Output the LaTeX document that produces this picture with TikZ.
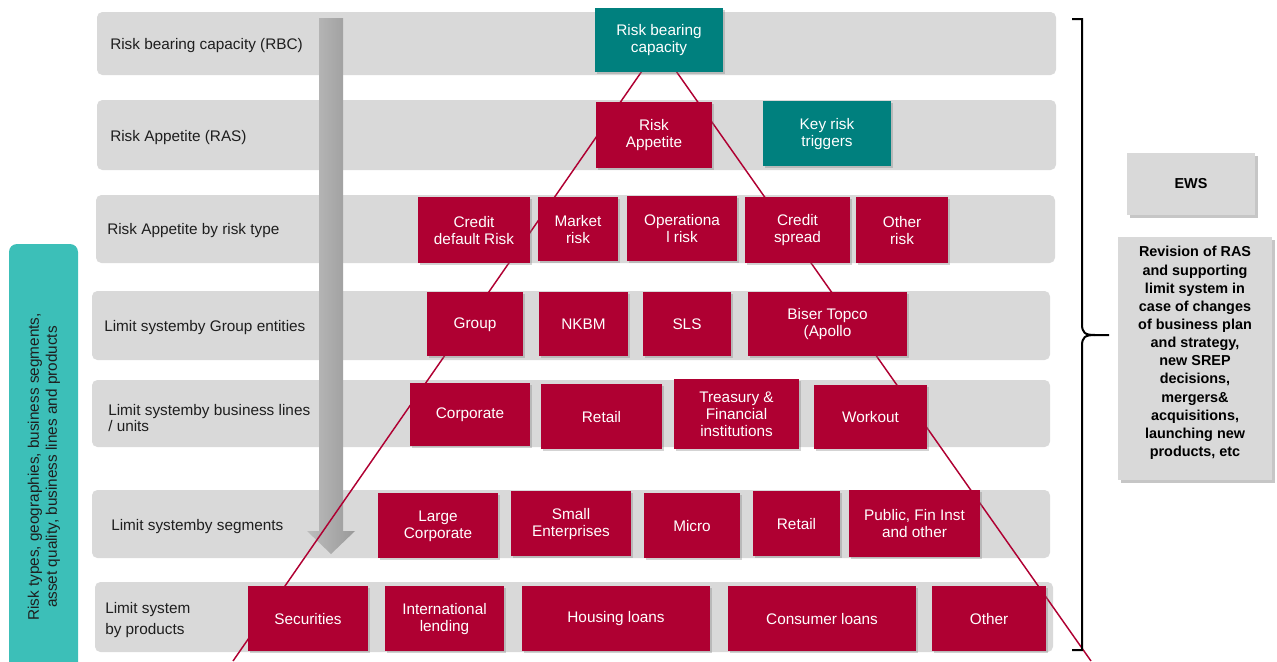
\documentclass[tikz,border=0pt]{standalone}
\usepackage{fontspec}
\setmainfont{Liberation Sans}
\usetikzlibrary{shadows}
\definecolor{crim}{HTML}{AF0032}
\definecolor{tealdark}{HTML}{00807E}
\definecolor{teallight}{HTML}{3CBFB8}
\definecolor{bandgray}{HTML}{D9D9D9}
\definecolor{labelink}{HTML}{1E1E1E}
\tikzset{
  boxbase/.style={inner sep=0pt, align=center, text=white,
    font=\fontsize{11.5}{12.75}\selectfont,
    drop shadow={shadow xshift=1.6pt, shadow yshift=-1.6pt, opacity=0.35}},
  redbox/.style={boxbase, fill=crim},
  tealbox/.style={boxbase, fill=tealdark},
  bandbox/.style={inner sep=0pt, fill=bandgray, rounded corners=4pt},
  bandlabel/.style={anchor=west, inner sep=0pt, align=left, text=labelink,
    font=\fontsize{11.5}{12}\selectfont},
  ewsbox/.style={inner sep=0pt, align=center, fill=bandgray, text=black,
    font=\fontsize{10.8}{13.6}\selectfont\bfseries,
    drop shadow={shadow xshift=2pt, shadow yshift=-2pt, opacity=0.45}},
  ewstext/.style={inner sep=0pt, align=center, text=black,
    font=\fontsize{10.8}{13.6}\selectfont\bfseries},
  pyrline/.style={draw=crim, line width=1.1pt},
  bracket/.style={draw=black, line width=1.5pt},
}
% box with corners (x1,y1)-(x2,y2) in pixels; #8 = vertical offset of the node
\newcommand\bx[7]{\node[#1, minimum width={(#5-#3)*0.75pt}, minimum height={(#6-#4)*0.75pt}] (#2) at ({(#3+#5)/2},{(#4+#6)/2}) {#7};}
\begin{document}
\begin{tikzpicture}[x=0.75pt, y=-0.75pt]
\useasboundingbox (0,0) rectangle (1277,661);
% bands
\bx{bandbox}{b1}{97}{12}{1056}{75}{}
\bx{bandbox}{b2}{97}{100}{1056}{170}{}
\bx{bandbox}{b3}{96}{195}{1055}{263}{}
\bx{bandbox}{b4}{92}{291}{1050}{360}{}
\bx{bandbox}{b5}{92}{380}{1050}{447}{}
\bx{bandbox}{b6}{92}{490}{1050}{558}{}
\bx{bandbox}{b7}{95}{582}{1053}{652}{}
% band labels
\node[bandlabel] (l1) at (110,46) {Risk bearing capacity (RBC)};
\node[bandlabel] (l2) at (110,138) {Risk Appetite (RAS)};
\node[bandlabel] (l3) at (107,231) {Risk Appetite by risk type};
\node[bandlabel] (l4) at (104,328) {Limit systemby Group entities};
\node[bandlabel] (l5) at (108,418) {Limit systemby business lines\\/ units};
\node[bandlabel] (l6) at (111,527) {Limit systemby segments};
\node[bandlabel, font=\fontsize{11.5}{15.75}\selectfont] (l7) at (105,620) {Limit system\\by products};
% left teal box
\fill[teallight, rounded corners=6pt] (9,244) rectangle (78,700);
\node[rotate=90, align=center, text=labelink, font=\fontsize{11.5}{13.5}\selectfont] (side) at (44,467)
  {Risk types, geographies, business segments,\\asset quality, business lines and products};
% gray arrow
\shade[left color=black!26, right color=black!40]
  (319,18) -- (343,18) -- (343,531) -- (355,531) -- (331,554) -- (307,531) -- (319,531) -- cycle;
% pyramid lines
\coordinate (ltop) at (642,71);
\coordinate (lbot) at (233,661);
\coordinate (rtop) at (676,71);
\coordinate (rbot) at (1091,661);
\draw[pyrline] (ltop) -- (lbot);
\draw[pyrline] (rtop) -- (rbot);
% boxes (text nudged down a little via 'yshift')
\begin{scope}[every node/.append style={yshift=-1pt}]
\bx{tealbox}{rbc}{595}{7}{723}{71}{Risk bearing\\capacity}
\bx{redbox}{ra}{596}{101}{712}{167}{Risk\\Appetite}
\bx{tealbox}{krt}{763}{100}{891}{165}{Key risk\\triggers}
\bx{redbox}{cdr}{418}{196}{530}{262}{Credit\\default Risk}
\bx{redbox}{mr}{538}{196}{618}{260}{Market\\risk}
\bx{redbox}{opr}{627}{195}{737}{260}{Operationa\\l risk}
\bx{redbox}{cs}{745}{196}{850}{262}{Credit\\spread}
\bx{redbox}{othr}{856}{196}{948}{262}{Other\\risk}
\bx{redbox}{grp}{427}{291}{523}{355}{Group}
\bx{redbox}{nkbm}{539}{291}{628}{355}{NKBM}
\bx{redbox}{sls}{643}{291}{731}{355}{SLS}
\bx{redbox}{biser}{748}{291}{907}{355}{Biser Topco\\(Apollo}
\bx{redbox}{corp}{410}{382}{530}{445}{Corporate}
\bx{redbox}{retl}{541}{383}{662}{448}{Retail}
\bx{redbox}{treas}{674}{378}{799}{448}{Treasury \&\\Financial\\institutions}
\bx{redbox}{wout}{814}{384}{927}{448}{Workout}
\bx{redbox}{lc}{378}{492}{498}{557}{Large\\Corporate}
\bx{redbox}{se}{511}{490}{631}{555}{Small\\Enterprises}
\bx{redbox}{micro}{644}{492}{740}{557}{Micro}
\bx{redbox}{retl2}{753}{490}{840}{555}{Retail}
\bx{redbox}{pub}{849}{489}{980}{556}{Public, Fin Inst\\and other}
\bx{redbox}{sec}{248}{585}{368}{650}{Securities}
\bx{redbox}{intl}{385}{585}{504}{650}{International\\lending}
\bx{redbox}{house}{522}{585}{710}{650}{Housing loans}
\bx{redbox}{cons}{728}{585}{916}{650}{Consumer loans}
\bx{redbox}{oth}{932}{585}{1046}{650}{Other}
\end{scope}
% bracket
\draw[bracket] (1072,19) -- (1082,19) -- (1082,324)
  .. controls (1082,333) and (1085,335) .. (1095,335) -- (1109,335);
\draw[bracket] (1095,335) .. controls (1085,335) and (1082,337) .. (1082,346)
  -- (1082,650) -- (1072,650);
% EWS boxes
\bx{ewsbox}{ews}{1127}{153}{1255}{215}{EWS}
\bx{ewsbox}{rev}{1118}{237}{1272}{480}{}
\node[ewstext] (revtext) at (1195,353) {Revision of RAS\\and supporting\\limit system in\\case of changes\\of business plan\\and strategy,\\new SREP\\decisions,\\mergers\&\\acquisitions,\\launching new\\products, etc};
\end{tikzpicture}
\end{document}
